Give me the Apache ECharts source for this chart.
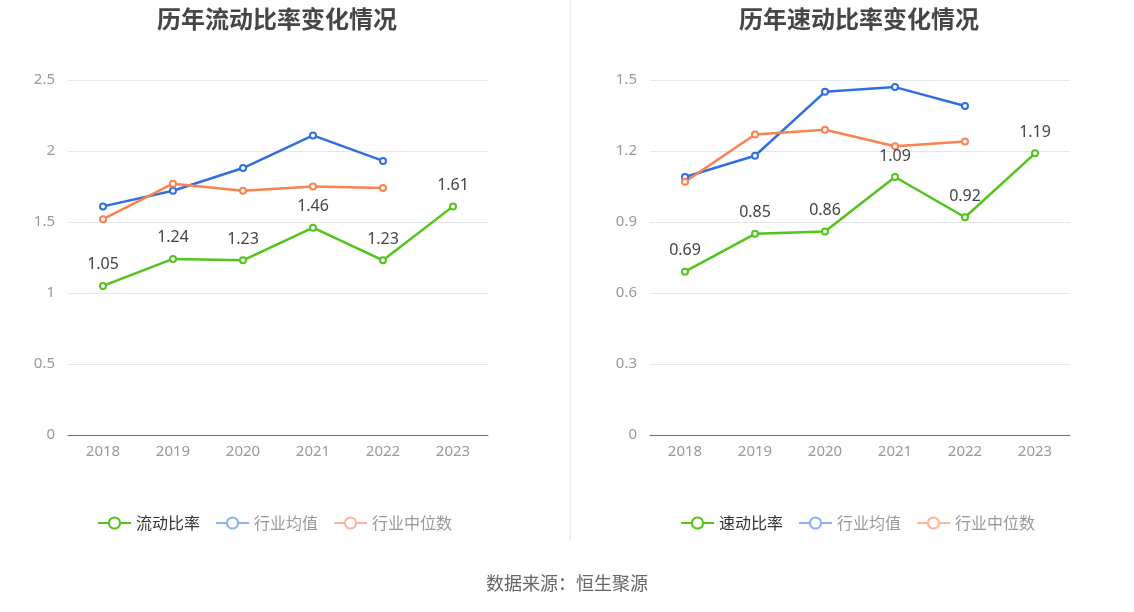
<!DOCTYPE html>
<html>
<head>
<meta charset="utf-8">
<script src="https://cdn.jsdelivr.net/npm/echarts@6/dist/echarts.min.js"></script>
<style>html,body{margin:0;padding:0;background:#fff;}#c{width:1134px;height:612px;}</style>
</head>
<body>
<div id="c"></div>
<script>
const years = ['2018', '2019', '2020', '2021', '2022', '2023'];
const currentRatio = [1.05, 1.24, 1.23, 1.46, 1.23, 1.61];
const currentIndustryAvg = [1.61, 1.72, 1.88, 2.11, 1.93, null];
const currentIndustryMedian = [1.52, 1.77, 1.72, 1.75, 1.74, null];
const quickRatio = [0.69, 0.85, 0.86, 1.09, 0.92, 1.19];
const quickIndustryAvg = [1.09, 1.18, 1.45, 1.47, 1.39, null];
const quickIndustryMedian = [1.07, 1.27, 1.29, 1.22, 1.24, null];
const leftTicks = { min: 0, max: 2.5, interval: 0.5 };
const rightTicks = { min: 0, max: 1.5, interval: 0.3 };

const GREEN = '#52c41a', BLUE = '#2f6fe0', ORANGE = '#fa8150';
const font = '"Noto Sans CJK SC", "Noto Sans", sans-serif';
const numFont = '"Noto Sans", "Noto Sans CJK SC", sans-serif';

function mkSeries(name, data, color, idx, label) {
  return {
    name, type: 'line', data, xAxisIndex: idx, yAxisIndex: idx,
    symbol: 'emptyCircle', symbolSize: 6,
    lineStyle: { width: 2.5, color }, itemStyle: { color, borderWidth: 2 },
    label: label ? { show: true, position: 'top', distance: 9, fontSize: 16, color: '#444', fontFamily: numFont } : { show: false },
    z: label ? 3 : 2
  };
}
function xAx(idx) {
  return {
    type: 'category', gridIndex: idx, data: years, boundaryGap: true,
    axisLine: { lineStyle: { color: '#6e7079' } },
    axisTick: { alignWithLabel: true, lineStyle: { color: '#6e7079' } },
    axisLabel: { color: '#999', fontSize: 15, margin: 9, fontFamily: numFont }
  };
}
function yAx(idx, t) {
  return {
    type: 'value', gridIndex: idx, min: t.min, max: t.max, interval: t.interval,
    axisLine: { show: false }, axisTick: { show: false },
    axisLabel: { color: '#999', fontSize: 15, margin: 13, fontFamily: numFont },
    splitLine: { lineStyle: { color: '#e3e7f0' } }
  };
}
function legend(idx, first, left) {
  return {
    left, top: 510, itemWidth: 33, itemHeight: 14, itemGap: 15,
    textStyle: { fontSize: 16, fontFamily: font, color: '#999' },
    data: [
      { name: first, textStyle: { color: '#333' } },
      { name: '行业均值', itemStyle: { color: '#8fb2f5', borderColor: '#8fb2f5' }, lineStyle: { color: '#8fb2f5' } },
      { name: '行业中位数', itemStyle: { color: '#ffb59a', borderColor: '#ffb59a' }, lineStyle: { color: '#ffb59a' } }
    ]
  };
}

const chart = echarts.init(document.getElementById('c'));
chart.setOption({
  animation: false,
  backgroundColor: '#fff',
  title: [
    { text: '历年流动比率变化情况', left: 272, top: 2, textAlign: 'center', textStyle: { fontSize: 24, fontWeight: 'bold', color: '#464646', fontFamily: font } },
    { text: '历年速动比率变化情况', left: 854, top: 2, textAlign: 'center', textStyle: { fontSize: 24, fontWeight: 'bold', color: '#464646', fontFamily: font } }
  ],
  legend: [legend(0, '流动比率', 92), legend(1, '速动比率', 675)],
  grid: [
    { left: 68, width: 420, top: 80, height: 355 },
    { left: 650, width: 420, top: 80, height: 355 }
  ],
  xAxis: [xAx(0), xAx(1)],
  yAxis: [yAx(0, leftTicks), yAx(1, rightTicks)],
  series: [
    mkSeries('流动比率', currentRatio, GREEN, 0, true),
    mkSeries('行业均值', currentIndustryAvg, BLUE, 0, false),
    mkSeries('行业中位数', currentIndustryMedian, ORANGE, 0, false),
    mkSeries('速动比率', quickRatio, GREEN, 1, true),
    mkSeries('行业均值', quickIndustryAvg, BLUE, 1, false),
    mkSeries('行业中位数', quickIndustryMedian, ORANGE, 1, false)
  ],
  graphic: [
    { type: 'rect', shape: { x: 569, y: 0, width: 2, height: 541 }, style: { fill: '#f0f0f0' } },
    { type: 'text', left: 'center', top: 574, style: { text: '数据来源：恒生聚源', fontSize: 18, fill: '#666', fontFamily: font } }
  ]
});
</script>
</body>
</html>
